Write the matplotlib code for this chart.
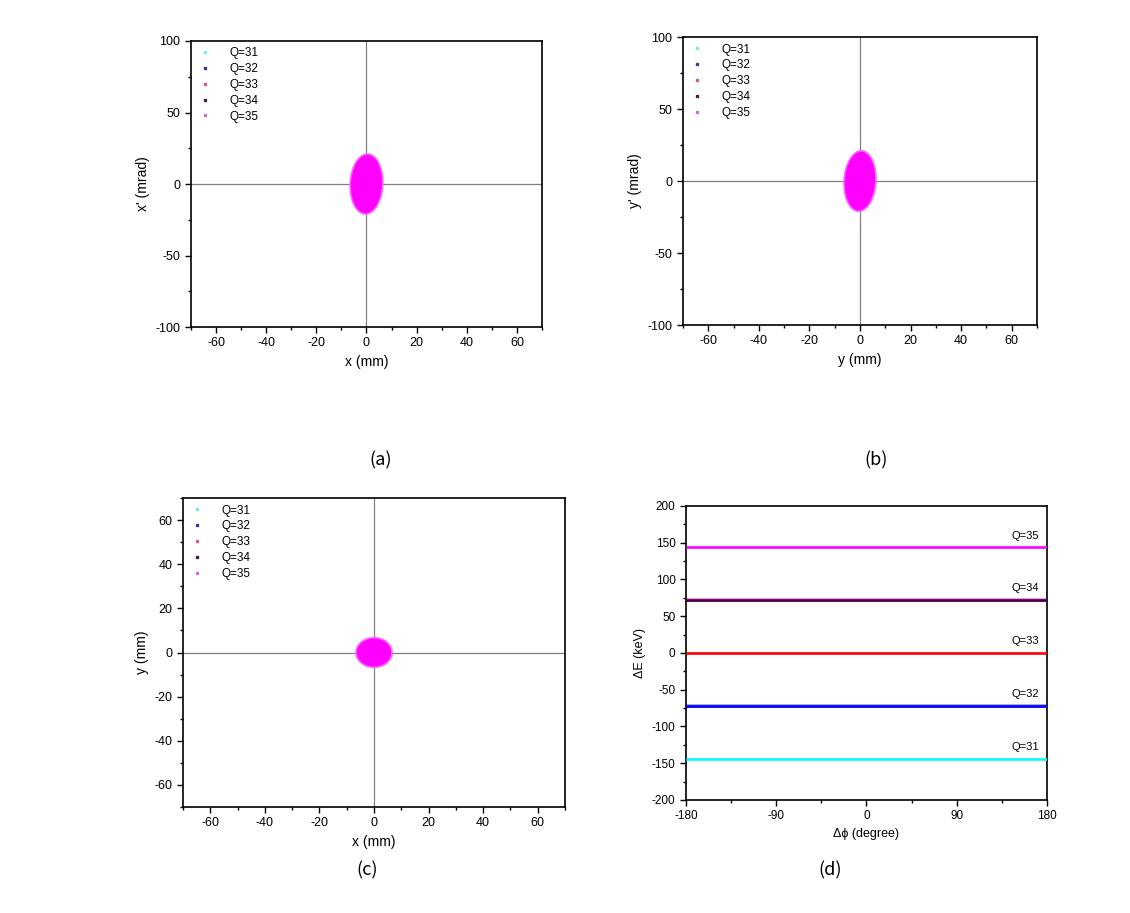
import matplotlib
matplotlib.use('Agg')
import matplotlib.pyplot as plt
from matplotlib.patches import Ellipse
from matplotlib.lines import Line2D
from matplotlib.ticker import MultipleLocator

plt.rcParams['font.family'] = ['Liberation Sans', 'DejaVu Sans']
plt.rcParams['axes.unicode_minus'] = False

# charge states and colours
charges = [31, 32, 33, 34, 35]
labels = ['Q=31', 'Q=32', 'Q=33', 'Q=34', 'Q=35']
colors = ['#7fe8e8', '#3a3a8c', '#d06070', '#4a1a4a', '#d070d0']
fill_colors = ['#00ffff', '#1a1a8c', '#e0405a', '#4a0a4a', '#ff00ff']
line_colors = ['#00ffff', '#0000ee', '#ff0000', '#3a003a', '#ff00ff']

# beam half sizes (all charge states nearly identical)
x_half = [6.2, 6.2, 6.2, 6.2, 6.2]       # mm
xp_half = [20.5, 20.5, 20.5, 20.5, 20.5]  # mrad
y_half = [6.0, 6.0, 6.0, 6.0, 6.0]       # mm
yp_half = [20.5, 20.5, 20.5, 20.5, 20.5]  # mrad
xy_x_half = [6.3, 6.3, 6.3, 6.3, 6.3]
xy_y_half = [6.2, 6.2, 6.2, 6.2, 6.2]
tilt_a = -1.2
tilt_b = -1.5

# energy offset per charge state (keV)
dE = [-144, -72, 0, 72, 144]
phase_range = [-180, 180]

fig = plt.figure(figsize=(11.3, 9.13), dpi=100)

ax_a = fig.add_axes([0.169, 0.6418, 0.3106, 0.3133])
ax_b = fig.add_axes([0.6044, 0.644, 0.3133, 0.3154])
ax_c = fig.add_axes([0.162, 0.1161, 0.338, 0.3384])
ax_d = fig.add_axes([0.607, 0.1238, 0.3195, 0.322])


def style_axes(ax, fs=9):
    for s in ax.spines.values():
        s.set_linewidth(1.2)
    ax.tick_params(which='both', direction='out', top=False, right=False, labelsize=fs)
    ax.tick_params(which='major', length=4, width=1)
    ax.tick_params(which='minor', length=2.5, width=1)


def phase_panel(ax, hx, hy, ang, xlab, ylab, ylim, ymaj, ymin_):
    for i in range(len(charges)):
        e = Ellipse((0, 0), 2 * hx[i], 2 * hy[i], angle=ang, facecolor=fill_colors[i],
                    edgecolor=fill_colors[i], lw=0.5, zorder=2 + i * 0.01)
        ax.add_patch(e)
    # fuzzy magenta rim on top, since Q=35 is plotted last
    e = Ellipse((0, 0), 2 * hx[-1] + 0.6, 2 * hy[-1] + 1.0, angle=ang, facecolor='#ff00ff',
                edgecolor='#ff66ff', lw=1.2, zorder=3)
    ax.add_patch(e)
    ax.axhline(0, color='#808080', lw=0.9, zorder=1)
    ax.axvline(0, color='#808080', lw=0.9, zorder=1)
    ax.set_xlim(-70, 70)
    ax.set_ylim(*ylim)
    ax.xaxis.set_major_locator(MultipleLocator(20))
    ax.xaxis.set_minor_locator(MultipleLocator(10))
    ax.yaxis.set_major_locator(MultipleLocator(ymaj))
    ax.yaxis.set_minor_locator(MultipleLocator(ymin_))
    ax.set_xlabel(xlab, fontsize=10)
    ax.set_ylabel(ylab, fontsize=10)
    handles = [Line2D([], [], ls='none', marker='s', ms=1.6, color=colors[i], label=labels[i])
               for i in range(len(charges))]
    ax.legend(handles=handles, loc='upper left', frameon=False, fontsize=8.5,
              handlelength=1.2, handletextpad=1.5, labelspacing=0.32,
              borderaxespad=0.15, bbox_to_anchor=(0.0, 1.0))
    style_axes(ax)


phase_panel(ax_a, x_half, xp_half, tilt_a, 'x (mm)', "x' (mrad)", (-100, 100), 50, 25)
phase_panel(ax_b, y_half, yp_half, tilt_b, 'y (mm)', "y' (mrad)", (-100, 100), 50, 25)
phase_panel(ax_c, xy_x_half, xy_y_half, 0, 'x (mm)', 'y (mm)', (-70, 70), 20, 10)

# longitudinal panel
for i in range(len(charges)):
    if charges[i] == 34:
        ax_d.plot(phase_range, [dE[i], dE[i]], color='#ff90ff', lw=3.0, solid_capstyle='butt', zorder=2)
    if charges[i] == 32:
        ax_d.plot(phase_range, [dE[i], dE[i]], color='#a0a0ff', lw=2.8, solid_capstyle='butt', zorder=2)
    ax_d.plot(phase_range, [dE[i], dE[i]], color=line_colors[i], lw=1.9,
              solid_capstyle='butt', zorder=3)
    ax_d.text(172, dE[i] + 9, labels[i], ha='right', va='bottom', fontsize=8)
ax_d.set_xlim(-180, 180)
ax_d.set_ylim(-200, 200)
ax_d.xaxis.set_major_locator(MultipleLocator(90))
ax_d.xaxis.set_minor_locator(MultipleLocator(45))
ax_d.yaxis.set_major_locator(MultipleLocator(50))
ax_d.yaxis.set_minor_locator(MultipleLocator(25))
ax_d.set_xlabel('\u0394\u03d5 (degree)', fontsize=9)
ax_d.set_ylabel('\u0394E (keV)', fontsize=9)
style_axes(ax_d, fs=8.5)

# panel tags
for tag, px, py in [('(a)', 381, 460), ('(b)', 876, 460), ('(c)', 367, 870), ('(d)', 830, 870)]:
    fig.text(px / 1130, 1 - py / 913, tag, ha='center', va='center', fontsize=13,
             family=['Noto Sans CJK KR', 'DejaVu Sans'])

fig.savefig('out.png', dpi=100)
